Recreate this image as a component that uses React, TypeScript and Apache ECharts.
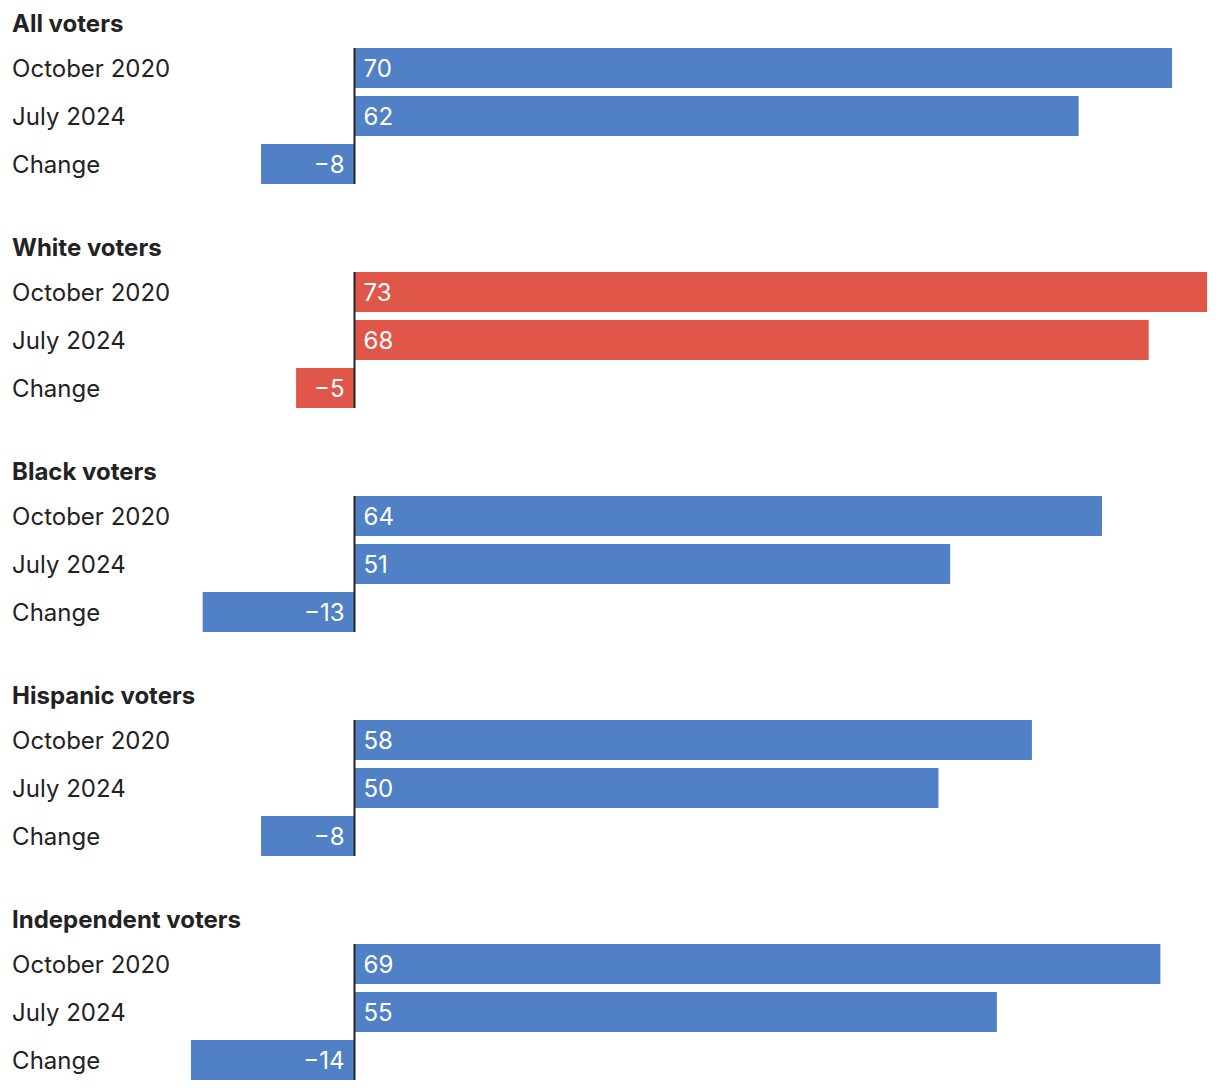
import React, { useEffect, useRef } from "react";
import * as echarts from "echarts";

const groups = ["All voters", "White voters", "Black voters", "Hispanic voters", "Independent voters"];
const categories = ["October 2020", "July 2024", "Change"];
const october2020 = [70, 73, 64, 58, 69];
const july2024 = [62, 68, 51, 50, 55];
const change = [-8, -5, -13, -8, -14];
const highlighted = [false, true, false, false, false];

const BLUE = "#5080C5";
const RED = "#E0574A";
const TEXT = "#222222";
const FONT = "Inter, Lato, 'Noto Sans', sans-serif";
const FS = 24;

export default function App() {
  const ref = useRef<HTMLDivElement>(null);
  useEffect(() => {
    if (!ref.current) return;
    const chart = echarts.init(ref.current, null, { renderer: "svg" });
    const PITCH = 224;
    const BAR = 40;
    const grids: any[] = [];
    const xAxes: any[] = [];
    const yAxes: any[] = [];
    const series: any[] = [];
    const titles: any[] = [];
    groups.forEach((g, i) => {
      titles.push({
        text: g,
        left: 12,
        top: 11 + PITCH * i,
        padding: 0,
        textStyle: { fontSize: FS, fontWeight: "bold", color: TEXT, fontFamily: FONT },
      });
      grids.push({ left: 4.1, right: 1.2, top: 44 + PITCH * i, height: 144, containLabel: false });
      xAxes.push({
        type: "value",
        gridIndex: i,
        min: -30,
        max: 74,
        show: false,
      });
      yAxes.push({
        type: "category",
        gridIndex: i,
        data: categories,
        inverse: true,
        axisLine: { show: false },
        axisTick: { show: false },
        splitLine: { show: false },
        axisLabel: {
          inside: true,
          margin: 8,
          fontSize: FS,
          color: TEXT,
          fontFamily: FONT,
        },
      });
      const vals = [october2020[i], july2024[i], change[i]];
      const color = highlighted[i] ? RED : BLUE;
      series.push({
        type: "bar",
        xAxisIndex: i,
        yAxisIndex: i,
        barWidth: BAR,
        data: vals.map((v) => ({
          value: v,
          label: {
            show: true,
            position: v >= 0 ? "insideLeft" : "insideRight",
            distance: v >= 0 ? 9 : 10,
            color: "#ffffff",
            fontSize: FS,
            fontFamily: FONT,
            formatter: () => (v < 0 ? "\u2212" + Math.abs(v) : String(v)),
          },
        })),
        itemStyle: { color },
      });
      series.push({
        type: "custom",
        xAxisIndex: i,
        yAxisIndex: i,
        z: 5,
        data: [[0, 0]],
        renderItem: (params: any, api: any) => {
          const top = api.coord([0, 0]);
          const bot = api.coord([0, categories.length - 1]);
          return {
            type: "line",
            shape: { x1: top[0], y1: top[1] - BAR / 2, x2: bot[0], y2: bot[1] + BAR / 2 },
            style: { stroke: TEXT, lineWidth: 2 },
          };
        },
      });
    });
    chart.setOption({
      animation: false,
      backgroundColor: "#ffffff",
      title: titles,
      grid: grids,
      xAxis: xAxes,
      yAxis: yAxes,
      series,
    });
    return () => chart.dispose();
  }, []);
  return (
    <div
      ref={ref}
      style={{ position: "absolute", left: 0, top: 0, width: 1220, height: 1090, background: "#fff" }}
    />
  );
}
